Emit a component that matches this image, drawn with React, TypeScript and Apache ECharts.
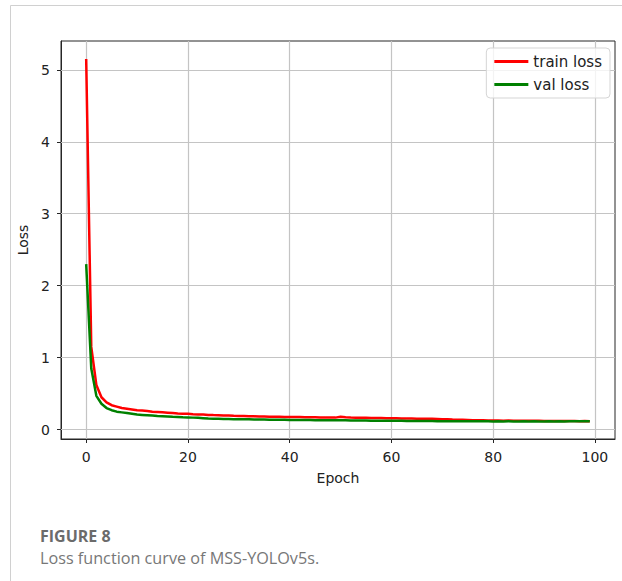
import React, { useEffect, useRef } from "react";
import * as echarts from "echarts";

const epochs: number[] = Array.from({ length: 100 }, (_, i) => i);

const trainLoss: number[] = [
  5.15, 1.15, 0.62, 0.45, 0.38, 0.34, 0.32, 0.30, 0.29, 0.28,
  0.27, 0.265, 0.26, 0.25, 0.245, 0.24, 0.235, 0.23, 0.225, 0.222,
  0.22, 0.215, 0.212, 0.21, 0.205, 0.202, 0.2, 0.197, 0.195, 0.192,
  0.19, 0.188, 0.186, 0.185, 0.183, 0.182, 0.18, 0.179, 0.178, 0.177,
  0.176, 0.175, 0.174, 0.173, 0.172, 0.171, 0.17, 0.169, 0.168, 0.167,
  0.178, 0.172, 0.168, 0.166, 0.165, 0.164, 0.163, 0.162, 0.161, 0.16,
  0.158, 0.157, 0.156, 0.155, 0.154, 0.153, 0.152, 0.151, 0.15, 0.148,
  0.146, 0.143, 0.14, 0.138, 0.136, 0.134, 0.132, 0.13, 0.129, 0.128,
  0.127, 0.126, 0.125, 0.126, 0.124, 0.123, 0.124, 0.122, 0.123, 0.122,
  0.121, 0.12, 0.121, 0.12, 0.119, 0.12, 0.119, 0.118, 0.119, 0.118,
];

const valLoss: number[] = [
  2.3, 0.85, 0.47, 0.36, 0.30, 0.27, 0.25, 0.24, 0.23, 0.22,
  0.21, 0.205, 0.2, 0.195, 0.19, 0.186, 0.182, 0.178, 0.175, 0.172,
  0.17, 0.167, 0.165, 0.16, 0.155, 0.152, 0.15, 0.148, 0.147, 0.146,
  0.145, 0.144, 0.143, 0.142, 0.141, 0.14, 0.139, 0.138, 0.137, 0.136,
  0.135, 0.134, 0.134, 0.133, 0.133, 0.132, 0.131, 0.131, 0.13, 0.13,
  0.132, 0.13, 0.128, 0.127, 0.127, 0.126, 0.125, 0.125, 0.124, 0.124,
  0.123, 0.122, 0.122, 0.121, 0.121, 0.12, 0.12, 0.119, 0.119, 0.118,
  0.118, 0.118, 0.117, 0.117, 0.116, 0.116, 0.117, 0.115, 0.116, 0.115,
  0.114, 0.115, 0.114, 0.116, 0.113, 0.114, 0.115, 0.112, 0.116, 0.113,
  0.114, 0.115, 0.113, 0.116, 0.114, 0.117, 0.115, 0.116, 0.117, 0.116,
];

const xTicks: number[] = [0, 20, 40, 60, 80, 100];
const yTicks: number[] = [0, 1, 2, 3, 4, 5];

const seriesNames = ["train loss", "val loss"];
const captionTitle = "FIGURE 8";
const captionText = "Loss function curve of MSS-YOLOv5s.";

export default function App() {
  const ref = useRef<HTMLDivElement>(null);
  useEffect(() => {
    if (!ref.current) return;
    const chart = echarts.init(ref.current, undefined, { renderer: "svg" });
    const font = "DejaVu Sans";
    const tickColor = "#262626";
    const fs = 14;
    chart.setOption({
      animation: false,
      backgroundColor: "#ffffff",
      grid: {
        left: 61,
        top: 41,
        width: 554,
        height: 398,
        show: true,
        borderColor: "#262626",
        borderWidth: 1,
        backgroundColor: "transparent",
        containLabel: false,
      },
      legend: {
        orient: "vertical",
        right: 12,
        top: 48,
        icon: "rect",
        itemWidth: 34,
        itemHeight: 3,
        itemGap: 8,
        padding: [6, 8, 6, 8],
        backgroundColor: "rgba(255,255,255,0.8)",
        borderColor: "#d5d5d5",
        borderWidth: 1,
        borderRadius: 4,
        textStyle: { fontFamily: font, fontSize: 15, color: "#222" },
        data: seriesNames,
      },
      xAxis: {
        type: "value",
        min: -4.95,
        max: 103.95,
        name: "Epoch",
        nameLocation: "middle",
        nameGap: 32,
        nameTextStyle: { fontFamily: font, fontSize: fs, color: "#222" },
        axisLine: { show: true, onZero: false, lineStyle: { color: "#262626", width: 1 } },
        axisTick: { show: true, customValues: xTicks, length: 4, lineStyle: { color: tickColor } },
        axisLabel: {
          customValues: xTicks,
          fontFamily: font,
          fontSize: fs,
          color: "#222",
          margin: 11,
        },
        splitLine: { show: false },
      },
      yAxis: {
        type: "value",
        min: -0.13,
        max: 5.4,
        name: "Loss",
        nameLocation: "middle",
        nameGap: 30,
        nameRotate: 90,
        nameTextStyle: { fontFamily: font, fontSize: fs, color: "#222" },
        axisLine: { show: true, onZero: false, lineStyle: { color: "#262626", width: 1 } },
        axisTick: { show: true, customValues: yTicks, length: 4, lineStyle: { color: tickColor } },
        axisLabel: {
          customValues: yTicks,
          fontFamily: font,
          fontSize: fs,
          color: "#222",
          margin: 11,
        },
        splitLine: { show: false },
      },
      series: [
        {
          name: seriesNames[0],
          type: "line",
          data: epochs.map((e, i) => [e, trainLoss[i]]),
          showSymbol: false,
          symbol: "none",
          lineStyle: { color: "#ff0000", width: 2.5 },
          itemStyle: { color: "#ff0000" },
          z: 3,
          markLine: {
            silent: true,
            symbol: "none",
            label: { show: false },
            lineStyle: { color: "#c4c4c4", width: 1.2, type: "solid" },
            z: 1,
            data: [
              ...xTicks.map((v) => ({ xAxis: v })),
              ...yTicks.map((v) => ({ yAxis: v })),
            ],
          },
        },
        {
          name: seriesNames[1],
          type: "line",
          data: epochs.map((e, i) => [e, valLoss[i]]),
          showSymbol: false,
          symbol: "none",
          lineStyle: { color: "#008000", width: 2.5 },
          itemStyle: { color: "#008000" },
          z: 4,
        },
      ],
      graphic: [
        {
          type: "line",
          shape: { x1: 10.5, y1: 5.5, x2: 622, y2: 5.5 },
          style: { stroke: "#d0d0d0", lineWidth: 1 },
          silent: true,
        },
        {
          type: "line",
          shape: { x1: 10.5, y1: 5.5, x2: 10.5, y2: 581 },
          style: { stroke: "#d0d0d0", lineWidth: 1 },
          silent: true,
        },
        {
          type: "text",
          left: 40,
          top: 528,
          style: {
            text: captionTitle,
            font: "bold 16px 'Open Sans', Lato, sans-serif",
            fill: "#6b6b6b",
          },
        },
        {
          type: "text",
          left: 40,
          top: 550,
          style: {
            text: captionText,
            font: "16.2px 'Open Sans', Lato, sans-serif",
            fill: "#777777",
          },
        },
      ],
    });
    return () => chart.dispose();
  }, []);
  return (
    <div
      ref={ref}
      style={{ position: "fixed", left: 0, top: 0, width: 622, height: 581 }}
    />
  );
}
